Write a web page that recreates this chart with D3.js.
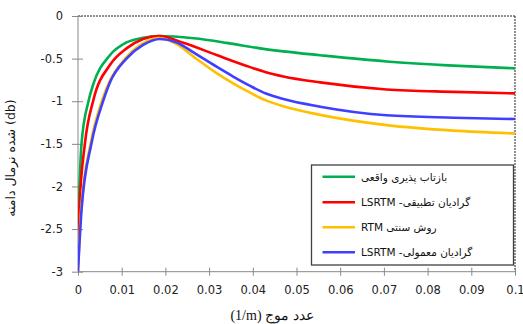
<!DOCTYPE html>
<html>
<head>
<meta charset="utf-8">
<script src="https://cdn.jsdelivr.net/npm/d3@7"></script>
<style>
  body { margin: 0; background: #fff; }
  svg { display: block; }
</style>
</head>
<body>
<script>
// wavenumber (1/m) vs normalized amplitude (db)
let xTicks = [0, 0.01, 0.02, 0.03, 0.04, 0.05, 0.06, 0.07, 0.08, 0.09, 0.1]
let xTickLabels = ["0", "0.01", "0.02", "0.03", "0.04", "0.05", "0.06", "0.07", "0.08", "0.09", "0.1"]
let yTicks = [0, -0.5, -1, -1.5, -2, -2.5, -3]
let yTickLabels = ["0", "-0.5", "-1", "-1.5", "-2", "-2.5", "-3"]

let seriesNames = ["بازتاب پذیری واقعی", "گرادیان تطبیقی- LSRTM", "روش سنتی RTM", "گرادیان معمولی- LSRTM"]

let trueX = [0, 0.0008, 0.0024, 0.0035, 0.0073, 0.0111, 0.0149, 0.0185, 0.0265, 0.034, 0.0417, 0.047, 0.0554, 0.0706, 0.0859, 0.1]
let trueY = [-2.45, -1.5, -1.0, -0.8, -0.46, -0.31, -0.255, -0.235, -0.262, -0.315, -0.38, -0.415, -0.46, -0.533, -0.582, -0.614]

let adaptX = [0, 0.0003, 0.0016, 0.0035, 0.0073, 0.0111, 0.0149, 0.0185, 0.0241, 0.0317, 0.0394, 0.043, 0.047, 0.0554, 0.0706, 0.0859, 0.1]
let adaptY = [-2.75, -2.28, -1.49, -0.99, -0.575, -0.38, -0.27, -0.235, -0.313, -0.458, -0.6, -0.66, -0.71, -0.779, -0.862, -0.89, -0.908]

let rtmX = [0, 0.0007, 0.0029, 0.0055, 0.0071, 0.0108, 0.0146, 0.0185, 0.0226, 0.0265, 0.0317, 0.0355, 0.0394, 0.043, 0.047, 0.0554, 0.0706, 0.0859, 0.1]
let rtmY = [-3, -2.28, -1.49, -0.99, -0.78, -0.5, -0.33, -0.26, -0.33, -0.48, -0.67, -0.79, -0.9, -0.99, -1.06, -1.16, -1.28, -1.345, -1.377]

let convX = [0, 0.0008, 0.0031, 0.0058, 0.0073, 0.0111, 0.0149, 0.0188, 0.0226, 0.0265, 0.0317, 0.0355, 0.0394, 0.043, 0.047, 0.0554, 0.0706, 0.0859, 0.1]
let convY = [-3, -2.28, -1.49, -0.99, -0.78, -0.5, -0.34, -0.27, -0.31, -0.43, -0.595, -0.71, -0.82, -0.91, -0.975, -1.064, -1.165, -1.193, -1.209]

let colors = ["#00B050", "#FF0000", "#FFC000", "#3F3FFF"]

let w = 523
let h = 324

let svg = d3.select("body").append("svg")
  .attr("width", w)
  .attr("height", h)

let xScale = d3.scaleLinear().domain([0, 0.1]).range([78, 515])
let yScale = d3.scaleLinear().domain([-3, 0]).range([271.7, 16])

// top & right dotted frame
svg.append("line")
  .attr("x1", xScale(0)).attr("x2", xScale(0.1))
  .attr("y1", yScale(0)).attr("y2", yScale(0))
  .attr("stroke", "#222").attr("stroke-dasharray", "2,1")
svg.append("line")
  .attr("x1", xScale(0.1)).attr("x2", xScale(0.1))
  .attr("y1", yScale(0)).attr("y2", yScale(-3))
  .attr("stroke", "#222").attr("stroke-dasharray", "2,1")

let xAxis = d3.axisBottom(xScale)
  .tickValues(xTicks)
  .tickFormat((d, i) => xTickLabels[i])
  .tickSize(4)
  .tickPadding(10)
let gx = svg.append("g")
  .attr("transform", "translate(0," + yScale(-3) + ")")
  .call(xAxis)

let yAxis = d3.axisLeft(yScale)
  .tickValues(yTicks)
  .tickFormat((d, i) => yTickLabels[i])
  .tickSize(6)
  .tickPadding(9)
let gy = svg.append("g")
  .attr("transform", "translate(" + xScale(0) + ",0)")
  .call(yAxis)

gx.select(".domain").attr("stroke", "#888").attr("d", "M" + xScale(0) + ",0H" + xScale(0.1))
gy.select(".domain").attr("stroke", "#888").attr("d", "M0," + yScale(0) + "V" + yScale(-3))
gx.selectAll(".tick line").attr("stroke", "#888").attr("y1", -4).attr("y2", 4)
gy.selectAll(".tick line").attr("stroke", "#888").attr("x1", -6).attr("x2", 5)
svg.selectAll(".tick text")
  .attr("fill", "#222")
  .style("font-family", "DejaVu Sans, Verdana, sans-serif")
  .style("font-size", "11.5px")

// curves
let allSeries = [[trueX, trueY], [adaptX, adaptY], [rtmX, rtmY], [convX, convY]]
let line = d3.line()
  .x(d => xScale(d[0]))
  .y(d => yScale(d[1]))
  .curve(d3.curveMonotoneX)

svg.append("clipPath").attr("id", "clip")
  .append("rect")
  .attr("x", xScale(0)).attr("y", yScale(0) - 2)
  .attr("width", xScale(0.1) - xScale(0)).attr("height", yScale(-3) - yScale(0) + 2)

allSeries.forEach((s, i) => {
  let pts = s[0].map((x, j) => [x, s[1][j]])
  svg.append("path")
    .attr("d", line(pts))
    .attr("fill", "none")
    .attr("stroke", colors[i])
    .attr("stroke-width", 2.6)
    .attr("clip-path", "url(#clip)")
})

// legend
svg.append("rect")
  .attr("x", 311.5).attr("y", 165)
  .attr("width", 202).attr("height", 100)
  .attr("fill", "#fff")
  .attr("stroke", "#404040")
  .attr("stroke-width", 1.3)

let legendY = [176.7, 202.3, 227.3, 252.3]
seriesNames.forEach((name, i) => {
  svg.append("line")
    .attr("x1", 322.5).attr("x2", 355)
    .attr("y1", legendY[i]).attr("y2", legendY[i])
    .attr("stroke", colors[i])
    .attr("stroke-width", 2.6)
  svg.append("text")
    .attr("x", 361)
    .attr("y", legendY[i] + 4)
    .attr("direction", "rtl")
    .attr("text-anchor", "end")
    .style("font-family", "DejaVu Sans, sans-serif")
    .style("font-size", "10.5px")
    .attr("fill", "#111")
    .text(name)
})

// axis titles
svg.append("text")
  .attr("x", 272)
  .attr("y", 320)
  .attr("text-anchor", "middle")
  .style("font-family", "Liberation Serif, Times New Roman, serif")
  .style("font-size", "14px")
  .attr("fill", "#111")
  .text("(1/m) عدد موج")

svg.append("text")
  .attr("transform", "translate(15," + 158 + ") rotate(-90)")
  .attr("text-anchor", "middle")
  .style("font-family", "DejaVu Sans, sans-serif")
  .style("font-size", "12.5px")
  .attr("fill", "#111")
  .text("دامنه\u200E نرمال\u200E شده\u200E (db)")
</script>
</body>
</html>
